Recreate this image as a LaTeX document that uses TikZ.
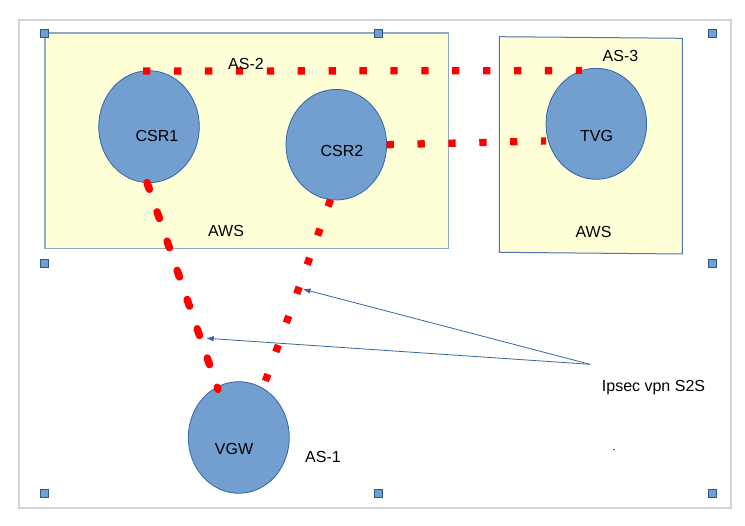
\documentclass[tikz,border=0pt]{standalone}
\usepackage{fontspec}
\setmainfont{Liberation Sans}
\usetikzlibrary{arrows.meta,shapes.geometric}
\definecolor{shapefill}{HTML}{729FCF}
\definecolor{shapeline}{HTML}{3465A4}
\definecolor{boxfill}{HTML}{FFFFD7}
\definecolor{boxline}{HTML}{8EA9CC}
\definecolor{boxlineb}{HTML}{4F74AA}
\definecolor{framegray}{HTML}{D4D4D4}
\tikzset{
  ell/.style={ellipse, fill=shapefill, draw=shapeline, line width=0.8pt, inner sep=0pt, outer sep=0pt},
  txt/.style={font=\fontsize{16}{19}\selectfont, inner sep=0pt, anchor=base, text=black},
  sqdot/.style={draw=red, line width=7.3pt, line cap=butt, dash pattern=on 7.3pt off 23.6pt},
  rounddash/.style={draw=red, line width=7.5pt, line cap=round, dash pattern=on 7pt off 23.9pt},
  pointer/.style={draw=shapeline, line width=0.8pt, -{Triangle[length=7pt,width=5pt]}},
  handle/.style={rectangle, fill=shapefill, draw=shapeline!85!black, line width=0.8pt, minimum size=8pt, inner sep=0pt, outer sep=0pt},
}
\begin{document}
\begin{tikzpicture}[x=1pt,y=-1pt]
\useasboundingbox (0,0) rectangle (745,526);
% outer frame
\draw[framegray, line width=1.5pt] (19,20) rectangle (731,508);
% AS boxes
\draw[fill=boxfill, draw=boxline, line width=1.8pt] (45,33) rectangle (448.5,248.5);
\draw[fill=boxfill, draw=boxlineb, line width=1pt] (499.3,36.7) -- (682.3,38.3) -- (682.3,254) -- (499.3,252.3) -- cycle;
% ellipses
\node[ell, minimum width=100.6pt, minimum height=112pt] (csr1) at (149,126.7) {};
\node[ell, minimum width=100.6pt, minimum height=110.6pt] (csr2) at (336.3,144.7) {};
\node[ell, minimum width=100.6pt, minimum height=111pt] (tvg) at (596.3,123.8) {};
\node[ell, minimum width=101pt, minimum height=111.6pt] (vgw) at (238.8,437.5) {};
% free ends
\coordinate (tvgleft) at (546,141);
\coordinate (vgwtl) at (218,389.3);
\coordinate (vgwtr) at (265.3,381.4);
\coordinate (ipsrc) at (590,364.3);
\coordinate (tipa) at (303.5,289.3);
\coordinate (tipb) at (206.7,338.3);
% red tunnels
\draw[sqdot] (csr1.96.4) -- (tvg.105.3);
\draw[sqdot] (csr2.east) -- (tvgleft);
\draw[sqdot] (csr2.264) -- (vgwtr);
\draw[rounddash] (csr1.268) -- (vgwtl);
% pointers
\draw[pointer] (ipsrc) -- (tipa);
\draw[pointer] (ipsrc) -- (tipb);
% handles
\node[handle] (h1) at (44,33.3) {};
\node[handle] (h2) at (378.3,33.3) {};
\node[handle] (h3) at (712.7,33.3) {};
\node[handle] (h4) at (44,263) {};
\node[handle] (h5) at (712.7,263) {};
\node[handle] (h6) at (44,493) {};
\node[handle] (h7) at (378.3,493) {};
\node[handle] (h8) at (712.7,493) {};
% texts
\node[txt] (tcsr1) at (157,142) {CSR1};
\node[txt] (tcsr2) at (342,157) {CSR2};
\node[txt] (ttvg) at (596.5,142) {TVG};
\node[txt] (tvgw) at (234,455) {VGW};
\node[txt] (tas2) at (246,70) {AS-2};
\node[txt] (taws1) at (226,237) {AWS};
\node[txt] (tas3) at (620.5,62) {AS-3};
\node[txt] (taws2) at (593.5,238) {AWS};
\node[txt] (tas1) at (323,463) {AS-1};
\node[txt] (tips) at (653.5,392) {Ipsec vpn S2S};
% tiny stray mark
\draw[shapeline, line width=0.8pt] (612.8,449.2) -- (615.2,449.2);
\end{tikzpicture}
\end{document}
